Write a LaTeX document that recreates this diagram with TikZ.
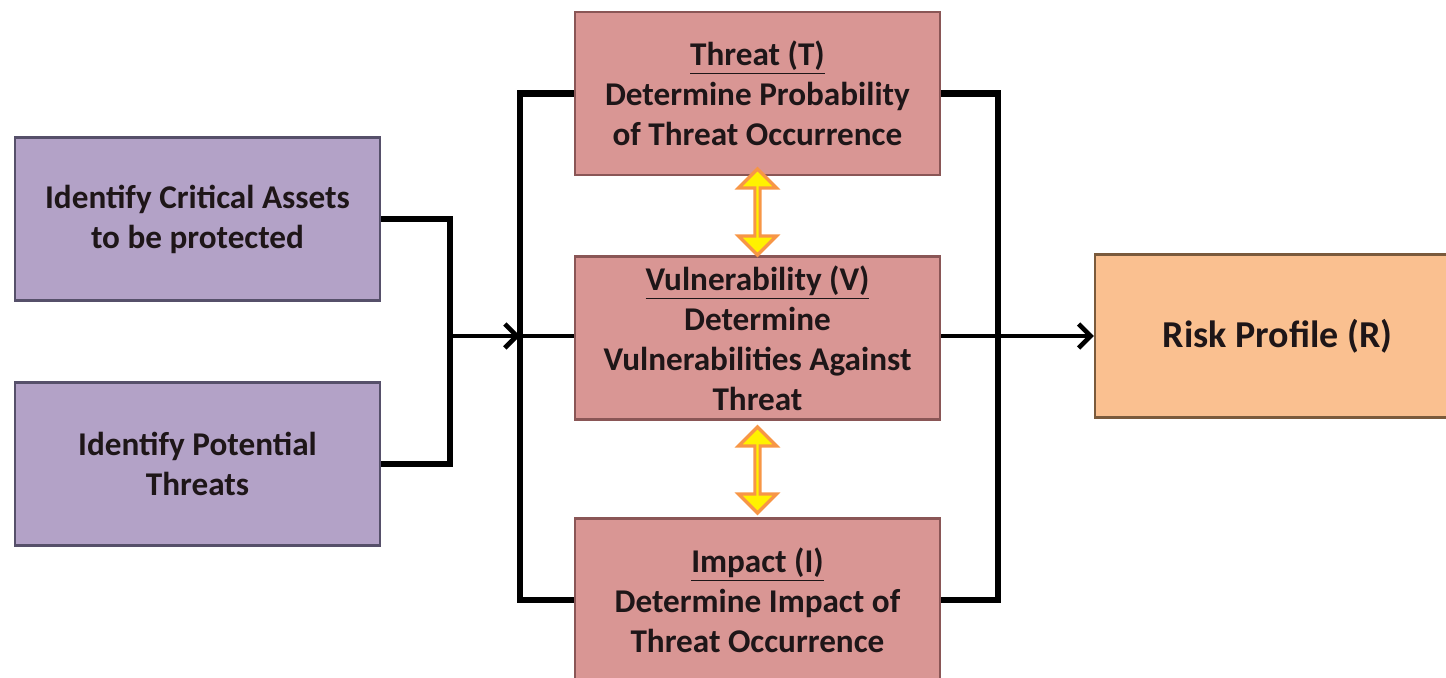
\documentclass[tikz,border=0pt]{standalone}
\usepackage{fontspec}
\setmainfont{Carlito}
\usetikzlibrary{arrows.meta,shapes.arrows}

\definecolor{lavfill}{HTML}{B3A2C7}
\definecolor{lavline}{HTML}{56506A}
\definecolor{pinkfill}{HTML}{D99694}
\definecolor{pinkline}{HTML}{8A5656}
\definecolor{peachfill}{HTML}{FAC090}
\definecolor{peachline}{HTML}{7A5A3C}
\definecolor{txtcol}{HTML}{1E1618}
\definecolor{arrowline}{HTML}{F79646}

\tikzset{
  box/.style={draw, line width=1.2pt, minimum width=182.5pt, minimum height=81.5pt,
    align=center, text=txtcol, font=\bfseries\fontsize{16.6}{20}\selectfont},
  idbox/.style={box, fill=lavfill, draw=lavline},
  stepbox/.style={box, fill=pinkfill, draw=pinkline},
  riskbox/.style={box, fill=peachfill, draw=peachline, font=\bfseries\fontsize{19}{22}\selectfont},
  bus/.style={line width=3.4pt},
  feed/.style={line width=2.3pt, -{Straight Barb[length=6pt,width=12pt,line width=2.3pt]}},
  link/.style={double arrow, draw=arrowline, fill=yellow, line width=1.6pt, inner sep=0pt,
    minimum height=43pt, minimum width=19pt, double arrow head extend=5pt, rotate=90}
}

\begin{document}
\begin{tikzpicture}[x=0.5pt, y=-0.5pt]
\useasboundingbox (0,0) rectangle (1446,678);

\node[idbox](assets) at (197.5,219) {Identify Critical Assets\\to be protected};
\node[idbox](threats) at (197.5,464) {Identify Potential\\Threats};

\node[stepbox](T) at (757.5,93.5) {\underline{Threat (T)}\\Determine Probability\\of Threat Occurrence};
\node[stepbox](V) at (757.5,338) {\underline{Vulnerability (V)}\\Determine\\Vulnerabilities Against\\Threat};
\node[stepbox](I) at (757.5,600) {\underline{Impact (I)}\\Determine Impact of\\Threat Occurrence};

\node[riskbox](R) at (1277.5,336) {Risk Profile (R)};

\node[link](TV) at (757.5,212) {};
\node[link](VI) at (757.5,470) {};

\coordinate (inL) at (450,336);
\coordinate (busL) at (520,336);
\coordinate (busR) at (998,336);

\draw[bus] (assets.east) -| (inL) |- (threats.east);
\draw[feed] (inL) -- (busL);
\draw[bus] (T.west) -| (busL) |- (I.west);
\draw[feed, -] (busL) -- (V.west |- busL);
\draw[bus] (T.east) -| (busR) |- (I.east);
\draw[feed] (V.east |- busR) -- (R.west);

\end{tikzpicture}
\end{document}
